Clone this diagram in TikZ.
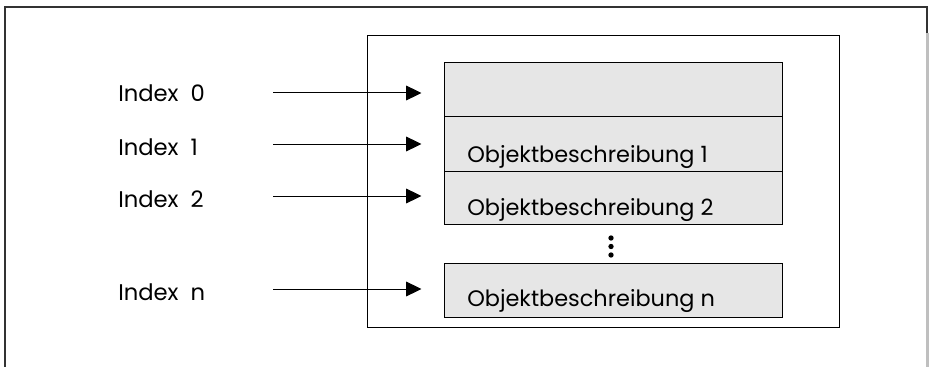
\documentclass[tikz,border=0pt]{standalone}
\usepackage{fontspec}
\setmainfont{Poppins}
\usetikzlibrary{arrows.meta}

\tikzset{
  cell/.style={draw, fill=cellgray, line width=0.75pt, minimum width=253.5pt, minimum height=40.5pt, inner sep=0pt},
  ptr/.style={line width=0.75pt, -{Triangle[length=11.5pt,width=11pt]}, shorten >=16.5pt},
  idx/.style={anchor=base west, inner sep=0pt, font=\fontsize{17}{19}\selectfont},
  desc/.style={anchor=base west, inner sep=0pt, font=\fontsize{16.8}{19}\selectfont}
}
\definecolor{cellgray}{HTML}{E6E6E6}

\begin{document}
\begin{tikzpicture}[x=0.75pt,y=-0.75pt]
\useasboundingbox (0,0) rectangle (930,367);

% page frame
\draw[line width=1.5pt, black!80] (5,367) -- (5,7.5) -- (926.5,7.5) -- (926.5,33);
\draw[line width=2pt, black!25] (927.5,33) -- (927.5,367);

% storage area
\node[draw, line width=0.75pt, minimum width=354pt, minimum height=218.25pt, inner sep=0pt] (mem) at (603,181.5) {};

\node[cell] (c0) at (613,90) {};
\node[cell] (c1) at (613,144) {};
\node[cell, minimum height=39.75pt] (c2) at (613,197.5) {};
\node[cell] (cn) at (613,290) {};

\node[desc] (t1) at (467,162) {Objektbeschreibung 1};
\node[desc] (t2) at (467,215) {Objektbeschreibung 2};
\node[desc] (tn) at (467,306) {Objektbeschreibung n};

\foreach \y in {238,246.5,255}
  \fill (611,\y) circle (2pt);

% index labels
\node[idx] (i0) at (118,102) {Index\ \ 0};
\node[idx] (i1) at (118,155) {Index\ \ 1};
\node[idx] (i2) at (118,207) {Index\ \ 2};
\node[idx] (in) at (118,300) {Index\ \ n};

\coordinate (s0) at (273,93);
\coordinate (s1) at (273,144);
\coordinate (s2) at (273,196);
\coordinate (sn) at (273,289);

\draw[ptr] (s0) -- (s0 -| c0.west);
\draw[ptr] (s1) -- (s1 -| c1.west);
\draw[ptr] (s2) -- (s2 -| c2.west);
\draw[ptr] (sn) -- (sn -| cn.west);
\end{tikzpicture}
\end{document}
